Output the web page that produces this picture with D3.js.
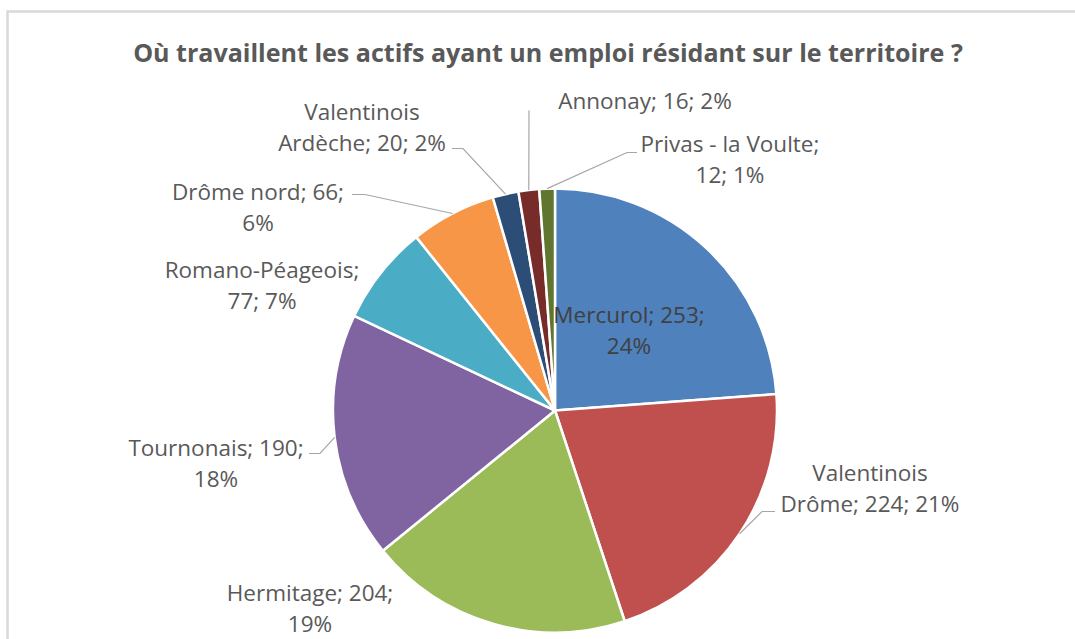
<!DOCTYPE html>
<html><head><meta charset="utf-8">
<script src="https://cdn.jsdelivr.net/npm/d3@7"></script>
<style>html,body{margin:0;padding:0;background:#fff;}svg{display:block;}</style>
</head><body>
<script>
// ---- data ----
const title = "Où travaillent les actifs ayant un emploi résidant sur le territoire ?";
const categories = ["Mercurol", "Valentinois Drôme", "Hermitage", "Tournonais", "Romano-Péageois", "Drôme nord", "Valentinois Ardèche", "Annonay", "Privas - la Voulte"];
const values = [253, 224, 204, 190, 77, 66, 20, 16, 12];
const colors = ["#4F81BD", "#C0504D", "#9BBB59", "#8064A2", "#4BACC6", "#F79646", "#2C4D75", "#772C2A", "#5F7530"];

// ---- layout (label placement, relative to pie centre) ----
const wrapModes = ["pct", "name", "pct", "pct", "afterName", "pct", "name", "none", "afterName"];
const labelOffsets = [[74,-88],[315,70],[-245,190],[-339,45],[-293,-133],[-297,-211],[-193,-291],[90,-302],[175,-259]];
const leaderStarts = [null,[220,101],null,[-246,43],null,[-203,-216],[-103,-262],[-26,-300],[82,-258]];
const leaderElbows = [null,[207,101],null,[-235,43],null,[-190,-216],[-92,-262],[-26,-300],[72,-258]];

const W = 1075, H = 639;
const cx = 555, cy = 410.5, R = 222;
const fontFam = "'Open Sans', 'Noto Sans', sans-serif";
const textColor = "#595959";

const svg = d3.select("body").append("svg").attr("width", W).attr("height", H);
svg.append("rect").attr("width", W).attr("height", H).attr("fill", "#fff");
// chart frame
svg.append("path").attr("d", `M${W+5},11.5 L7.5,11.5 L7.5,${H+5}`).attr("fill","none").attr("stroke","#d9d9d9").attr("stroke-width",2.5);

// title
const t = svg.append("text").attr("x", 548).attr("y", 61.5).attr("text-anchor","middle")
  .attr("font-family", fontFam).attr("font-weight","bold").attr("font-size", 20)
  .attr("fill", textColor).text(title);
const tl = t.node().getComputedTextLength();
t.attr("font-size", 20 * 830 / tl);

const total = d3.sum(values);
const pie = d3.pie().sort(null).value(d => d)(values);
const arc = d3.arc().innerRadius(0).outerRadius(R);
const edge = d3.arc().innerRadius(R).outerRadius(R);

const g = svg.append("g").attr("transform", `translate(${cx},${cy})`);
g.selectAll("path.slice").data(pie).join("path").attr("class","slice")
  .attr("d", arc).attr("fill", (d,i) => colors[i])
  .attr("stroke", "#fff").attr("stroke-width", 2.5).attr("stroke-linejoin","round");

// leader lines
pie.forEach((d,i) => {
  if (!leaderStarts[i]) return;
  const e = edge.centroid(d);
  const pts = [leaderStarts[i], leaderElbows[i], e];
  g.append("path").attr("d", d3.line()(pts)).attr("fill","none")
    .attr("stroke","#a6a6a6").attr("stroke-width",1.2);
});

// labels
function lines(i) {
  const name = categories[i], v = values[i], p = Math.round(v / total * 100) + "%";
  switch (wrapModes[i]) {
    case "pct": return [`${name}; ${v};`, p];
    case "name": { const k = name.indexOf(" "); return [name.slice(0,k), `${name.slice(k+1)}; ${v}; ${p}`]; }
    case "afterName": return [`${name};`, `${v}; ${p}`];
    default: return [`${name}; ${v}; ${p}`];
  }
}
pie.forEach((d,i) => {
  const [ox, oy] = labelOffsets[i];
  const txt = g.append("text").attr("text-anchor","middle")
    .attr("font-family", fontFam).attr("font-size", 22.5).attr("fill", i === 0 ? "#404040" : textColor);
  lines(i).forEach((s, j) => {
    txt.append("tspan").attr("x", ox).attr("y", oy + j * 31).text(s);
  });
});
</script>
</body></html>
